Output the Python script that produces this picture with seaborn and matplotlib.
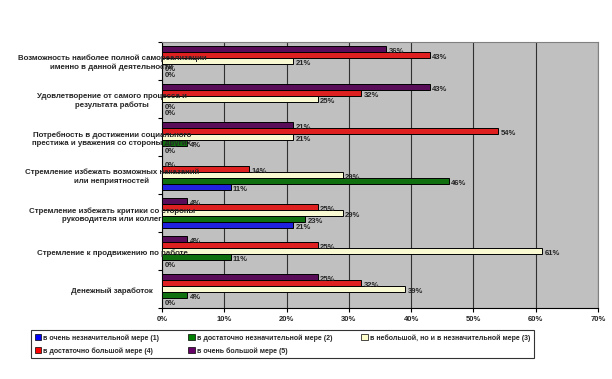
import matplotlib

matplotlib.use("Agg")
import matplotlib.pyplot as plt  # noqa: E402
import matplotlib.patches as mpatches  # noqa: E402
import matplotlib.transforms as mtransforms  # noqa: E402
import pandas as pd  # noqa: E402
import seaborn as sns  # noqa: E402

# категории (сверху вниз)
categories = [
    "Возможность наиболее полной самореализации\nименно в данной деятельности",
    "Удовлетворение от самого процесса и\nрезультата работы",
    "Потребность в достижении социального\nпрестижа и уважения со стороны других",
    "Стремление избежать возможных наказаний\nили неприятностей",
    "Стремление избежать критики со стороны\nруководителя или коллег",
    "Стремление к продвижению по работе",
    "Денежный заработок",
]

series_names = [
    "в очень незначительной мере (1)",
    "в достаточно незначительной мере (2)",
    "в небольшой, но и в незначительной мере (3)",
    "в достаточно большой мере (4)",
    "в очень большой мере (5)",
]

# значения в процентах, по категориям сверху вниз
s1 = [0, 0, 0, 11, 21, 0, 0]
s2 = [0, 0, 4, 46, 23, 11, 4]
s3 = [21, 25, 21, 29, 29, 61, 39]
s4 = [43, 32, 54, 14, 25, 25, 32]
s5 = [36, 43, 21, 0, 4, 4, 25]

colors = ["#0000FF", "#008000", "#FFFFCC", "#FF0000", "#660066"]

xticks = [0, 10, 20, 30, 40, 50, 60, 70]

sns.set_theme(style="white")
plt.rcParams["font.family"] = ["Liberation Sans", "DejaVu Sans"]

rows = []
for name, vals in zip(series_names, [s1, s2, s3, s4, s5]):
    for cat, v in zip(categories, vals):
        rows.append({"cat": cat, "series": name, "val": v / 100})
df = pd.DataFrame(rows)

# сверху в группе — серия (5), снизу — (1)
hue_order = series_names[::-1]
palette = dict(zip(series_names, colors))

fig = plt.figure(figsize=(6.12, 3.79), dpi=100)
ax = fig.add_axes([162 / 612, 1 - 308 / 379, 436 / 612, 266 / 379])
ax.set_facecolor("#C0C0C0")

sns.barplot(ax=ax, data=df, x="val", y="cat", hue="series", hue_order=hue_order,
            order=categories, palette=palette, orient="h", width=0.79,
            edgecolor="black", linewidth=0.7, legend=False, errorbar=None, zorder=3)

# подписи значений
for cont in ax.containers:
    for p in cont:
        w = p.get_width()
        yc = p.get_y() + p.get_height() / 2
        ax.text(w + 0.004, yc + 0.07, f"{round(w * 100):.0f}%", ha="left", va="center",
                fontsize=5.5, fontweight="bold", zorder=4)

ax.set_xlim(0, 0.7)
ax.set_ylim(len(categories) - 0.5, -0.5)
ax.set_xticks([t / 100 for t in xticks])
ax.set_xticklabels([f"{t}%" for t in xticks], fontsize=5.5, fontweight="bold")
ax.xaxis.grid(True, color="#303030", linewidth=0.8, zorder=0)
ax.set_axisbelow(True)

# подписи категорий поверх области построения (как в Excel)
ax.set_yticks(range(len(categories)))
ax.set_yticklabels([])
trans = mtransforms.blended_transform_factory(ax.transAxes, ax.transData)
for i, cat in enumerate(categories):
    ax.text(-50 / 436, i + 0.05, cat, transform=trans, ha="center", va="center",
            multialignment="center", fontsize=5.7, fontweight="bold",
            clip_on=False, zorder=6, linespacing=1.25)
ax.set_yticks([i - 0.5 for i in range(len(categories) + 1)], minor=True)
ax.tick_params(axis="y", which="major", length=0)
ax.tick_params(axis="y", which="minor", length=3, width=0.8, color="black", left=True)
ax.tick_params(axis="x", length=3, width=0.8, color="black", bottom=True, pad=3)
ax.set_xlabel("")
ax.set_ylabel("")

for side in ["left", "bottom"]:
    ax.spines[side].set_color("black")
    ax.spines[side].set_linewidth(0.8)
for side in ["top", "right"]:
    ax.spines[side].set_color("#808080")
    ax.spines[side].set_linewidth(0.8)

# легенда: порядок построчно (1)(2)(3) / (4)(5)
handles = [mpatches.Patch(facecolor=c, edgecolor="black", linewidth=0.5) for c in colors]
order = [0, 3, 1, 4, 2]
leg = fig.legend([handles[i] for i in order], [series_names[i] for i in order],
                 ncol=3, loc="upper left", bbox_to_anchor=(28 / 612, 1 - 327 / 379),
                 fontsize=5.0, frameon=True, fancybox=False, edgecolor="black",
                 handlelength=0.9, handleheight=0.9, handletextpad=0.3,
                 columnspacing=4.2, borderpad=0.5, labelspacing=0.8)
leg.get_frame().set_linewidth(0.8)
for t in leg.get_texts():
    t.set_fontweight("bold")

fig.savefig("out.png", dpi=100)
